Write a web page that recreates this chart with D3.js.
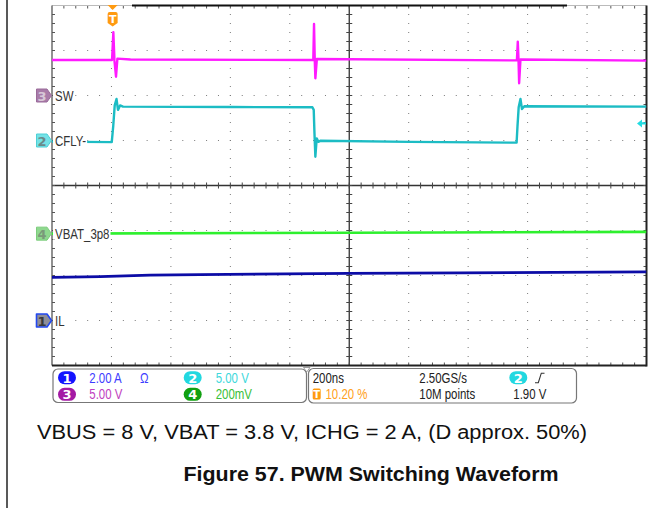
<!DOCTYPE html>
<html><head><meta charset="utf-8">
<script src="https://cdn.jsdelivr.net/npm/d3@7"></script>
<style>body{margin:0;background:#fff}svg{display:block}</style>
</head><body><svg id="c" width="669" height="508"></svg>
<script>
// ---------- data (time in ns, trigger at t = 0) ----------
const timeDomain = [-204, 1796];           // 200 ns/div, trigger at 10.20 %
const divDomain = [-4, 4];                 // 8 vertical divisions

// CH3 : SW (5 V/div)
const swTime  = [-204, -2, 2.4, 6, 11.4, 16, 60, 675, 677.5, 680, 682, 687, 1360, 1363, 1365.5, 1367.5, 1372, 1796];
const swVolts = [3.94, 3.94, 7.02, 3.9, 2.09, 4.1, 4.0, 3.94, 7.94, 3.9, 1.91, 4.05, 3.9, 5.98, 3.9, 1.36, 4.0, 3.87];

// CH2 : CFLY (5 V/div)
const cflyTime  = [-204, -3, 2, 7, 13, 18, 25, 35, 400, 672, 676.5, 679, 682, 686.5, 692, 700, 1000, 1359, 1362, 1366, 1372, 1377, 1385, 1796];
const cflyVolts = [-0.13, -0.18, 1.6, 3.9, 4.61, 3.4, 3.9, 3.76, 3.72, 3.69, 3.4, 0.8, -1.8, 0.24, -0.15, -0.02, -0.15, -0.24, 1.6, 3.7, 4.61, 3.5, 3.8, 3.76];

// CH4 : VBAT_3p8 (200 mV/div, 3.8 V offset)
const vbatTime  = [-204, 500, 1100, 1796];
const vbatVolts = [3.800, 3.803, 3.805, 3.808];

// CH1 : IL (2 A/div)
const ilTime = [-204, -42, 126, 294, 795, 1169, 1796];
const ilAmps = [1.92, 1.95, 2.02, 2.04, 2.09, 2.12, 2.16];

// channel settings
const chIds      = [1, 2, 3, 4];
const chNames    = ["IL", "CFLY-", "SW", "VBAT_3p8"];
const chScale    = [2, 5, 5, 0.2];
const chPosition = [-3, 1, 2, -1.07];
const chOffset   = [0, 0, 0, 3.8];
const chColor    = ["#0c0ca6", "#1cbcc4", "#ff1aff", "#2ef02e"];

const trigLevel = 1.90;   // V on CH2

// status bar text
const stRow1 = ["2.00 A", "5.00 V"];
const stRow2 = ["5.00 V", "200mV"];
const tbText = ["200ns", "2.50GS/s", "10.20 %", "10M points", "1.90 V"];
const caption = "VBUS = 8 V, VBAT = 3.8 V, ICHG = 2 A, (D approx. 50%)";
const title = "Figure 57. PWM Switching Waveform";

// ---------- drawing ----------
const svg = d3.select("#c");
const X0 = 52, X1 = 646.5, Y0 = 5.5, Y1 = 365.5;
const x = d3.scaleLinear().domain(timeDomain).range([X0, X1]);
const y = d3.scaleLinear().domain(divDomain).range([Y1, Y0]);
const xd = d3.scaleLinear().domain([0, 10]).range([X0, X1]);
const yd = d3.scaleLinear().domain([0, 8]).range([Y0, Y1]);
const chY = (i, v) => y(chPosition[i] + (v - chOffset[i]) / chScale[i]);
const SANS = "'Liberation Sans',Arial,sans-serif";
const NX = 0.79;

// narrow text helper (condensed scope font)
const ntext = (sel, xx, yy, s, col, size) => sel.append("text")
  .attr("transform", `translate(${xx},${yy}) scale(${NX},1)`).text(s)
  .attr("font-family", SANS).attr("font-size", size || 14).attr("fill", col);

// page border
svg.append("line").attr("x1", 7).attr("x2", 7).attr("y1", 0).attr("y2", 508)
  .attr("stroke", "#222").attr("stroke-width", 1.5);

// grid dots
const g = svg.append("g");
const minorX = d3.range(1, 50).map(k => k / 5);
const minorY = d3.range(1, 40).map(k => k / 5);
for (let i = 1; i < 10; i++) {
  if (i === 5) continue;
  minorY.forEach(j => g.append("rect").attr("x", xd(i) - 0.5).attr("y", yd(j) - 0.5)
    .attr("width", 1).attr("height", 1).attr("fill", "#7a7a7a"));
}
for (let j = 1; j < 8; j++) {
  if (j === 4) continue;
  minorX.forEach(i => g.append("rect").attr("x", xd(i) - 0.5).attr("y", yd(j) - 0.5)
    .attr("width", 1).attr("height", 1).attr("fill", "#7a7a7a"));
}
// center lines with ticks
g.append("line").attr("x1", xd(5)).attr("x2", xd(5)).attr("y1", Y0).attr("y2", Y1)
  .attr("stroke", "#333").attr("stroke-width", 1.3);
g.append("line").attr("x1", X0).attr("x2", X1).attr("y1", yd(4)).attr("y2", yd(4))
  .attr("stroke", "#333").attr("stroke-width", 1.3);
minorY.forEach(j => g.append("line").attr("x1", xd(5) - 3).attr("x2", xd(5) + 3)
  .attr("y1", yd(j)).attr("y2", yd(j)).attr("stroke", "#444").attr("stroke-width", 1));
minorX.forEach(i => g.append("line").attr("x1", xd(i)).attr("x2", xd(i))
  .attr("y1", yd(4) - 3).attr("y2", yd(4) + 3).attr("stroke", "#444").attr("stroke-width", 1));
// border ticks
minorY.forEach(j => {
  g.append("line").attr("x1", X0).attr("x2", X0 + 3).attr("y1", yd(j)).attr("y2", yd(j)).attr("stroke", "#555");
  g.append("line").attr("x1", X1 - 3).attr("x2", X1).attr("y1", yd(j)).attr("y2", yd(j)).attr("stroke", "#555");
});
minorX.forEach(i => {
  g.append("line").attr("x1", xd(i)).attr("x2", xd(i)).attr("y1", Y0).attr("y2", Y0 + 3).attr("stroke", "#555");
  g.append("line").attr("x1", xd(i)).attr("x2", xd(i)).attr("y1", Y1 - 3).attr("y2", Y1).attr("stroke", "#555");
});
// borders
g.append("line").attr("x1", X0).attr("x2", X1).attr("y1", Y0).attr("y2", Y0).attr("stroke", "#bbb").attr("stroke-width", 1);
g.append("line").attr("x1", 132).attr("x2", 567).attr("y1", Y0).attr("y2", Y0).attr("stroke", "#111").attr("stroke-width", 2);
g.append("line").attr("x1", X0).attr("x2", X0).attr("y1", Y0).attr("y2", Y1).attr("stroke", "#555").attr("stroke-width", 1.3);
g.append("line").attr("x1", X1).attr("x2", X1).attr("y1", Y0).attr("y2", Y1 + 1).attr("stroke", "#222").attr("stroke-width", 2);
g.append("line").attr("x1", X0).attr("x2", X1).attr("y1", Y1).attr("y2", Y1).attr("stroke", "#222").attr("stroke-width", 2);

// traces
svg.append("clipPath").attr("id", "clip").append("rect")
  .attr("x", X0).attr("y", Y0).attr("width", X1 - X0).attr("height", Y1 - Y0);
const tr = svg.append("g").attr("clip-path", "url(#clip)");
const traces = [[ilTime, ilAmps], [cflyTime, cflyVolts], [swTime, swVolts], [vbatTime, vbatVolts]];
const drawOrder = [2, 1, 3, 0];
const widths = [2.8, 2.4, 2.4, 2.6];
drawOrder.forEach(ci => {
  const [ts, vs] = traces[ci];
  const pts = ts.map((t, k) => [x(t), chY(ci, vs[k])]);
  tr.append("path").attr("d", d3.line()(pts)).attr("fill", "none")
    .attr("stroke", chColor[ci]).attr("stroke-width", widths[ci]).attr("stroke-linejoin", "round");
});

// channel labels (opaque background)
const lab = svg.append("g");
chIds.forEach((id, ci) => {
  const yy = y(chPosition[ci]);
  const t = ntext(lab, 55, yy + 5, chNames[ci], "#333", 14.5);
  const w = t.node().getBBox().width * NX;
  lab.insert("rect", "text").attr("x", 53).attr("y", yy - 6).attr("width", w + 3).attr("height", 12).attr("fill", "#fff");
});
// channel markers
const mFill   = ["#8e8e98", "#74e2e6", "#a97ca9", "#8fd88f"];
const mStroke = ["#2248f0", "#4cd0d6", "#9a6a9a", "#7ccc7c"];
const mText   = ["#3a3a3a", "#6a8a8a", "#d8c8d8", "#7a9a7a"];
chIds.forEach((id, ci) => {
  const yy = y(chPosition[ci]);
  svg.append("path").attr("d", `M36.5,${yy - 6.5}H47L51.5,${yy}L47,${yy + 6.5}H36.5Z`)
    .attr("fill", mFill[ci]).attr("stroke", mStroke[ci]).attr("stroke-width", ci === 0 ? 1.6 : 1)
    .attr("stroke-linejoin", "round");
  svg.append("text").attr("x", 42).attr("y", yy + 5).attr("text-anchor", "middle").text(id)
    .attr("font-family", "'DejaVu Sans',sans-serif").attr("font-weight", "bold").attr("font-size", 13).attr("fill", mText[ci]);
});

// trigger position marker
const tx = x(0);
svg.append("path").attr("d", `M${tx - 5},5H${tx + 5}L${tx},10Z`).attr("fill", "#ff9a10");
svg.append("path").attr("d", `M${tx - 5},14Q${tx - 5},12 ${tx - 3},12H${tx + 3}Q${tx + 5},12 ${tx + 5},14V23L${tx},26.5L${tx - 5},23Z`).attr("fill", "#ff9a10");
svg.append("text").attr("x", tx).attr("y", 23).attr("text-anchor", "middle").text("T")
  .attr("font-family", "'DejaVu Sans',sans-serif").attr("font-weight", "bold").attr("font-size", 11).attr("fill", "#fff");
// trigger level arrow
const ty = chY(1, trigLevel);
svg.append("path").attr("d", `M637,${ty}L642,${ty - 4}V${ty - 1.2}H646V${ty + 1.2}H642V${ty + 4}Z`).attr("fill", "#22dce2");

// status bar
const sb = svg.append("g");
sb.append("rect").attr("x", 53).attr("y", 369).attr("width", 253.5).attr("height", 33.5).attr("rx", 5)
  .attr("fill", "#fff").attr("stroke", "#777").attr("stroke-width", 1.2);
sb.append("rect").attr("x", 308.5).attr("y", 368.5).attr("width", 268).attr("height", 34.5).attr("rx", 5)
  .attr("fill", "#fff").attr("stroke", "#777").attr("stroke-width", 1.2);
sb.append("path").attr("d", "M303.5,367.5H310L306.7,372Z").attr("fill", "#fff").attr("stroke", "#888").attr("stroke-width", 0.8);
const pill = (cx, cy, fill, label) => {
  sb.append("rect").attr("x", cx - 9).attr("y", cy - 6.5).attr("width", 18).attr("height", 13).attr("rx", 6.5).attr("fill", fill);
  sb.append("text").attr("x", cx).attr("y", cy + 5).attr("text-anchor", "middle").text(label)
    .attr("font-family", "'DejaVu Sans',sans-serif").attr("font-weight", "bold").attr("font-size", 13).attr("fill", "#fff");
};
const r1 = 377.7, r2 = 394.3;
pill(67, r1, "#1414ff", chIds[0]);
pill(67, r2, "#a41aa4", chIds[2]);
pill(192.7, r1, "#22d8e0", chIds[1]);
pill(192.7, r2, "#11a011", chIds[3]);
const txt = (xx, yy, s, col) => ntext(sb, xx, yy + 5, s, col, 14.5);
txt(89.3, r1, stRow1[0], "#3c3cff");
txt(140, r1, "Ω", "#3c3cff");
txt(215.7, r1, stRow1[1], "#40d8dc");
txt(89.3, r2, stRow2[0], "#c03ec0");
txt(215.7, r2, stRow2[1], "#38c038");
txt(312.7, r1, tbText[0], "#222");
txt(419.3, r1, tbText[1], "#222");
txt(325.5, r2, tbText[2], "#ffa020");
txt(419.3, r2, tbText[3], "#222");
txt(513.3, r2, tbText[4], "#222");
pill(518.3, r1, "#22d8e0", chIds[1]);
sb.append("path").attr("d", `M535,${r1 + 5}H538.3L541.3,${r1 - 4.5}H544.5`).attr("fill", "none").attr("stroke", "#333").attr("stroke-width", 1.1);
sb.append("rect").attr("x", 312.7).attr("y", 388.5).attr("width", 8).attr("height", 11).attr("rx", 1.5).attr("fill", "#ff9a10");
sb.append("text").attr("x", 316.7).attr("y", 398).attr("text-anchor", "middle").text("T")
  .attr("font-family", "'DejaVu Sans',sans-serif").attr("font-weight", "bold").attr("font-size", 10).attr("fill", "#fff");

// caption and title
svg.append("text").attr("x", 37).attr("y", 439).text(caption)
  .attr("font-family", SANS).attr("font-size", 19.5).attr("fill", "#111")
  .attr("textLength", 550).attr("lengthAdjust", "spacingAndGlyphs");
svg.append("text").attr("x", 183.5).attr("y", 481).text(title)
  .attr("font-family", SANS).attr("font-weight", "bold").attr("font-size", 19.5).attr("fill", "#111")
  .attr("textLength", 375).attr("lengthAdjust", "spacingAndGlyphs");
</script></body></html>
